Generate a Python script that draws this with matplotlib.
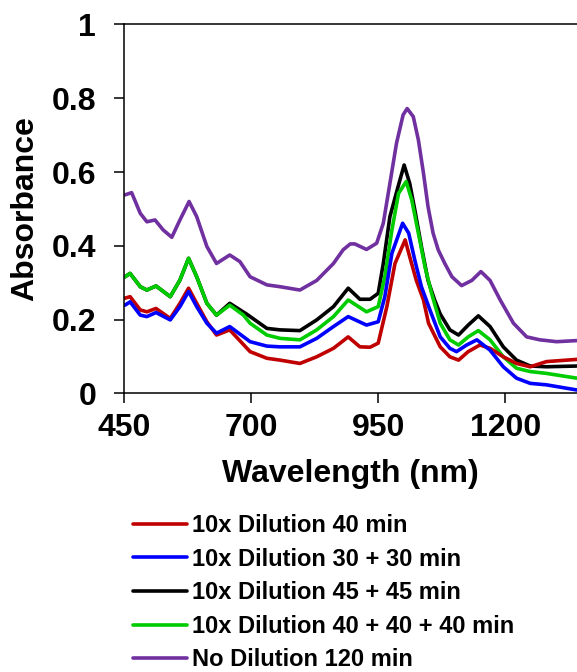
import matplotlib
matplotlib.use('Agg')
import matplotlib.pyplot as plt

plt.rcParams['font.family'] = ['Liberation Sans', 'DejaVu Sans']
plt.rcParams['font.weight'] = 'bold'

# Spectra (wavelength in nm, absorbance)
red_nm = [452, 462, 482, 495, 513, 541, 560, 577, 593, 613, 632, 658, 698, 731, 757, 796,
          829, 862, 891, 914, 934, 950, 967, 983, 1003, 1012, 1025, 1039, 1049, 1072, 1091,
          1108, 1127, 1150, 1170, 1196, 1222, 1249, 1281, 1341]
red_abs = [0.258, 0.262, 0.226, 0.221, 0.230, 0.203, 0.244, 0.285, 0.244, 0.194, 0.158, 0.172,
           0.113, 0.095, 0.090, 0.081, 0.099, 0.122, 0.153, 0.126, 0.125, 0.136, 0.235, 0.352,
           0.416, 0.370, 0.306, 0.253, 0.190, 0.126, 0.099, 0.090, 0.113, 0.131, 0.122, 0.099,
           0.081, 0.072, 0.086, 0.092]

blue_nm = [452, 462, 482, 495, 513, 541, 560, 577, 593, 613, 632, 658, 698, 731, 757, 796,
           829, 862, 891, 927, 950, 963, 977, 998, 1010, 1022, 1035, 1052, 1072, 1091, 1104,
           1124, 1144, 1170, 1196, 1222, 1249, 1281, 1341]
blue_abs = [0.239, 0.248, 0.212, 0.208, 0.219, 0.199, 0.235, 0.276, 0.235, 0.190, 0.163, 0.181,
            0.140, 0.128, 0.126, 0.126, 0.149, 0.181, 0.208, 0.185, 0.194, 0.262, 0.380, 0.461,
            0.434, 0.361, 0.289, 0.225, 0.153, 0.122, 0.113, 0.131, 0.145, 0.117, 0.072, 0.041,
            0.027, 0.023, 0.009]

black_nm = [452, 462, 482, 495, 513, 541, 560, 577, 593, 613, 632, 658, 691, 731, 757, 796,
            829, 862, 891, 914, 934, 950, 960, 973, 989, 1001, 1012, 1022, 1035, 1048, 1061,
            1072, 1091, 1108, 1127, 1147, 1170, 1196, 1222, 1249, 1281, 1341]
black_abs = [0.316, 0.325, 0.289, 0.280, 0.291, 0.262, 0.307, 0.366, 0.316, 0.244, 0.212, 0.244,
             0.215, 0.176, 0.172, 0.170, 0.199, 0.235, 0.285, 0.255, 0.255, 0.271, 0.352, 0.479,
             0.560, 0.619, 0.569, 0.497, 0.398, 0.306, 0.253, 0.215, 0.172, 0.158, 0.185, 0.210,
             0.181, 0.126, 0.090, 0.074, 0.072, 0.074]

green_nm = [452, 462, 482, 495, 513, 541, 560, 577, 593, 613, 632, 658, 685, 698, 731, 757,
            796, 829, 862, 891, 927, 950, 963, 977, 990, 1005, 1016, 1029, 1042, 1055, 1072,
            1091, 1108, 1127, 1147, 1170, 1196, 1222, 1249, 1281, 1341]
green_abs = [0.316, 0.325, 0.289, 0.280, 0.291, 0.262, 0.307, 0.366, 0.316, 0.244, 0.212, 0.239,
             0.212, 0.190, 0.158, 0.149, 0.145, 0.172, 0.208, 0.253, 0.221, 0.235, 0.316, 0.443,
             0.542, 0.574, 0.524, 0.434, 0.343, 0.271, 0.190, 0.145, 0.131, 0.153, 0.170, 0.145,
             0.099, 0.068, 0.059, 0.054, 0.041]

purple_nm = [452, 465, 482, 495, 511, 527, 544, 560, 578, 593, 613, 632, 658, 678, 698, 731,
             757, 796, 829, 862, 881, 895, 904, 927, 947, 960, 973, 986, 999, 1007, 1019, 1029,
             1039, 1048, 1058, 1068, 1081, 1095, 1114, 1134, 1152, 1170, 1190, 1216, 1242, 1268,
             1301, 1341]
purple_abs = [0.538, 0.544, 0.488, 0.465, 0.470, 0.443, 0.423, 0.470, 0.520, 0.479, 0.398, 0.352,
              0.375, 0.357, 0.316, 0.294, 0.289, 0.280, 0.306, 0.352, 0.389, 0.405, 0.405, 0.390,
              0.407, 0.461, 0.569, 0.678, 0.755, 0.772, 0.750, 0.687, 0.597, 0.506, 0.434, 0.389,
              0.352, 0.316, 0.292, 0.306, 0.330, 0.306, 0.253, 0.190, 0.153, 0.145, 0.140, 0.143]

labels = ['10x Dilution 40 min', '10x Dilution 30 + 30 min', '10x Dilution 45 + 45 min',
          '10x Dilution 40 + 40 + 40 min', 'No Dilution 120 min']
colors = ['#C00000', '#0000FF', '#000000', '#00CC00', '#7030A0']

x_ticks = [450, 700, 950, 1200]
y_ticks = [0, 0.2, 0.4, 0.6, 0.8, 1]
y_tick_labels = ['0', '0.2', '0.4', '0.6', '0.8', '1']

fig = plt.figure(figsize=(5.77, 6.72), dpi=100)
ax = fig.add_axes([0.2149, 0.4147, 0.7851, 0.5489])

series = [(red_nm, red_abs), (blue_nm, blue_abs), (black_nm, black_abs),
          (green_nm, green_abs), (purple_nm, purple_abs)]
order = [2, 3, 4, 0, 1]  # draw order so blue/red sit on top like the original
handles = [None] * 5
for i in order:
    nm, ab = series[i]
    h, = ax.plot(nm, ab, color=colors[i], lw=2.6, solid_joinstyle='round',
                 solid_capstyle='round', label=labels[i])
    handles[i] = h

ax.set_xlim(450, 1341)
ax.set_ylim(0, 1)
ax.set_xticks(x_ticks)
ax.set_yticks(y_ticks)
ax.set_yticklabels(y_tick_labels)
ax.tick_params(axis='both', direction='out', length=7, width=1.1, labelsize=23)
ax.tick_params(axis='x', pad=7)
ax.tick_params(axis='y', pad=13)
for lab in ax.get_xticklabels() + ax.get_yticklabels():
    lab.set_fontweight('bold')

ax.spines['right'].set_visible(False)
for s in ['left', 'top', 'bottom']:
    ax.spines[s].set_linewidth(1.1)

ax.set_xlabel('Wavelength (nm)', fontsize=23, fontweight='bold', labelpad=12)
ax.set_ylabel('Absorbance', fontsize=23, fontweight='bold', labelpad=8)

fig.legend(handles, labels, loc='upper left', bbox_to_anchor=(133 / 577, 1 - 514 / 672),
           frameon=False, prop={'size': 17, 'weight': 'bold'}, handlelength=2.29,
           handletextpad=0.2, labelspacing=0.45, borderpad=0, borderaxespad=0)

fig.savefig('out.png', dpi=100)
